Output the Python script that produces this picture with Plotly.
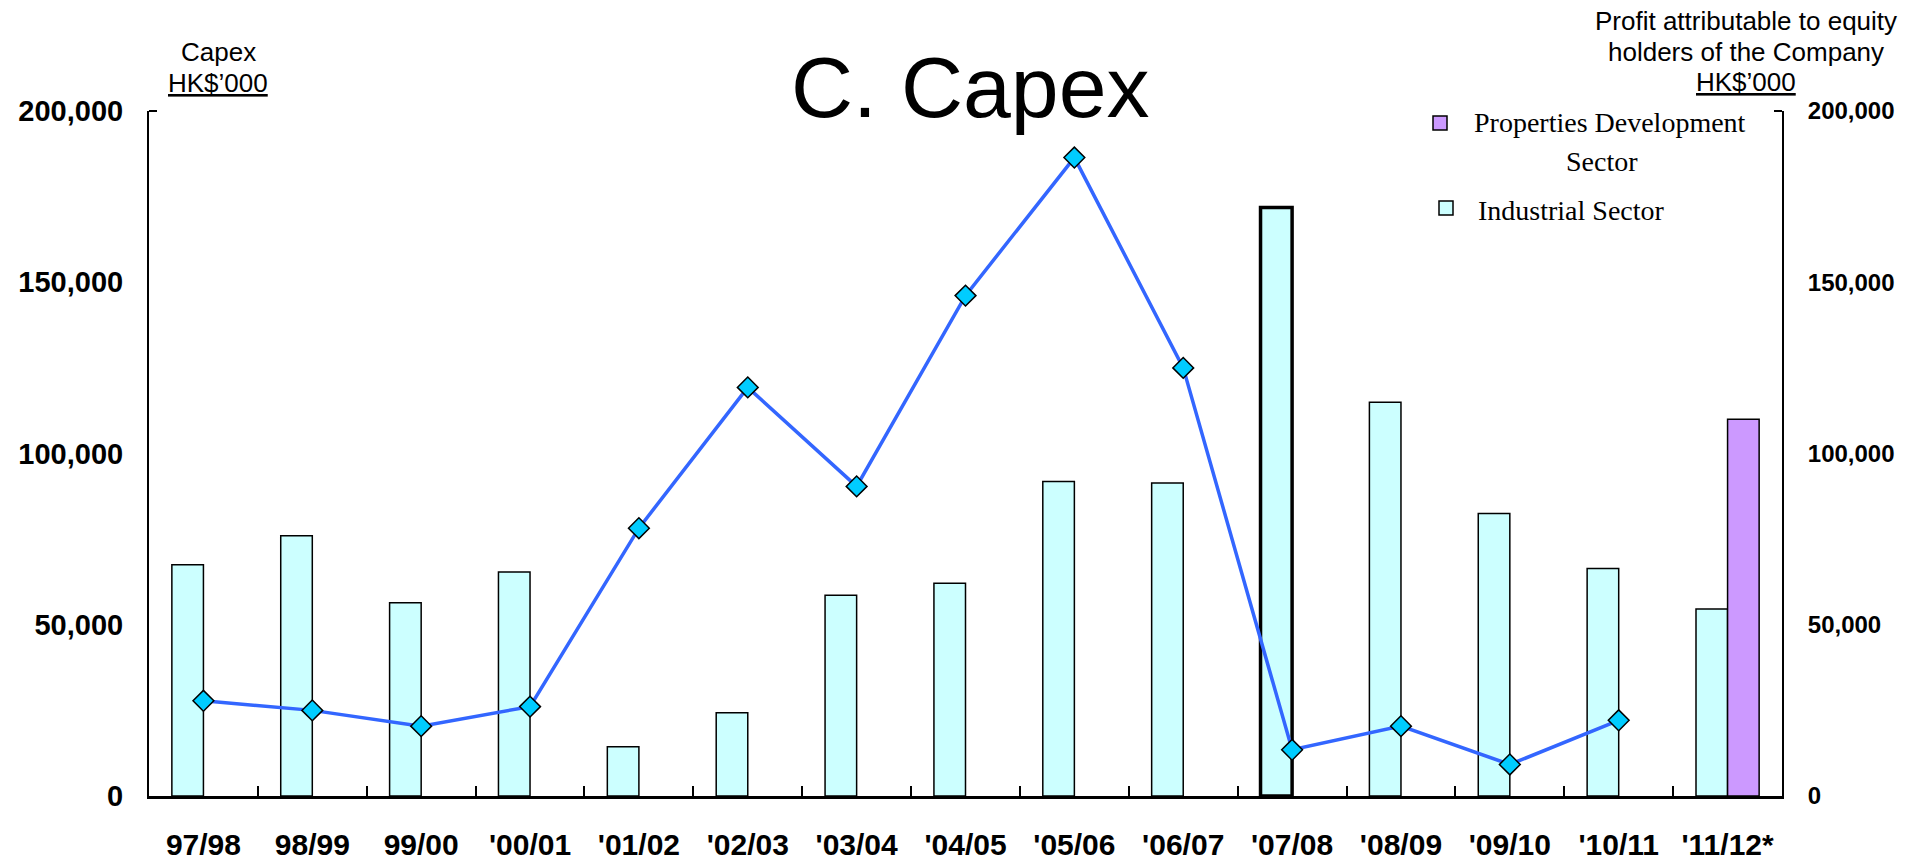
import plotly.graph_objects as go

# Financial years on the category axis
years = ["97/98", "98/99", "99/00", "'00/01", "'01/02", "'02/03", "'03/04",
         "'04/05", "'05/06", "'06/07", "'07/08", "'08/09", "'09/10",
         "'10/11", "'11/12*"]

# Capex by sector, HK$'000
industrial_capex = [67500, 76000, 56400, 65400, 14400, 24300, 58600, 62100,
                    91800, 91400, 171800, 115000, 82500, 66400, 54600]
properties_capex = [None] * 14 + [110000]

# Profit attributable to equity holders of the Company, HK$'000
profit = [27800, 25000, 20400, 26100, 78200, 119300, 90400, 146100,
          186400, 125000, 13500, 20400, 9200, 22100, None]

y_ticks = [0, 50000, 100000, 150000, 200000]

W, H = 1921, 866
L, R, T, B = 149, 139, 111, 70
PW, PH = W - L - R, H - T - B

SANS = "Liberation Sans, Arial, Helvetica, sans-serif"
SERIF = "Liberation Serif, Times New Roman, serif"


def px_x(x):
    return (x - L) / PW


def px_y(y):
    return (H - B - y) / PH


fig = go.Figure()

fig.add_trace(go.Bar(
    x=years, y=industrial_capex, name="Industrial Sector",
    marker=dict(color="#CCFFFF",
                line=dict(color="black",
                          width=[3.5 if y == "'07/08" else 1.5 for y in years])),
))
fig.add_trace(go.Bar(
    x=years, y=properties_capex, name="Properties Development Sector",
    marker=dict(color="#CC99FF", line=dict(color="black", width=1.5)),
))
fig.add_trace(go.Scatter(
    x=years, y=profit, yaxis="y2", mode="lines+markers",
    name="Profit attributable to equity holders of the Company",
    line=dict(color="#3366FF", width=3.5),
    marker=dict(symbol="diamond", size=16, color="#00CCFF",
                line=dict(color="black", width=1.5)),
    connectgaps=False,
))

fig.update_layout(
    width=W, height=H,
    margin=dict(l=L, r=R, t=T, b=B, pad=0, autoexpand=False),
    paper_bgcolor="white", plot_bgcolor="white",
    barmode="group", bargap=0.42, bargroupgap=0,
    showlegend=False,
    xaxis=dict(
        type="category", range=[-0.5, 14.5], automargin=False,
        showline=True, linecolor="black", linewidth=3,
        ticks="inside", tickson="boundaries", ticklen=10, tickwidth=1.5,
        tickcolor="black", showgrid=False, zeroline=False, tickangle=0,
        tickfont=dict(family=SANS, size=30, color="black", weight="bold"),
        ticklabelstandoff=20,
    ),
    yaxis=dict(
        range=[0, 200000], tickvals=y_ticks, tickformat=",d", automargin=False,
        showline=True, linecolor="black", linewidth=2,
        ticks="", showgrid=False, zeroline=False,
        tickfont=dict(family=SANS, size=29, color="black", weight="bold"),
        ticklabelstandoff=18,
    ),
    yaxis2=dict(
        range=[0, 200000], tickvals=y_ticks, tickformat=",d", automargin=False,
        overlaying="y", side="right",
        showline=True, linecolor="black", linewidth=2,
        ticks="", showgrid=False, zeroline=False,
        tickfont=dict(family=SANS, size=24, color="black", weight="bold"),
        ticklabelstandoff=19,
    ),
)

# Short end marks at the top of both value axes
fig.add_shape(type="line", xref="paper", yref="paper",
              x0=0, x1=px_x(L + 8), y0=1, y1=1,
              line=dict(color="black", width=2))
fig.add_shape(type="line", xref="paper", yref="paper",
              x0=1, x1=px_x(W - R - 8), y0=1, y1=1,
              line=dict(color="black", width=2))

annotations = [
    # chart title
    dict(text="C. Capex", x=px_x(970), y=px_y(87),
         font=dict(family=SANS, size=86, color="black")),
    # left axis caption
    dict(text="Capex", x=px_x(218), y=px_y(52),
         font=dict(family=SANS, size=26, color="black")),
    dict(text="<u>HK$’000</u>", x=px_x(218), y=px_y(83),
         font=dict(family=SANS, size=26, color="black")),
    # right axis caption
    dict(text="Profit attributable to equity", x=px_x(1746), y=px_y(21),
         font=dict(family=SANS, size=26, color="black")),
    dict(text="holders of the Company", x=px_x(1746), y=px_y(52),
         font=dict(family=SANS, size=26, color="black")),
    dict(text="<u>HK$’000</u>", x=px_x(1746), y=px_y(82),
         font=dict(family=SANS, size=26, color="black")),
    # legend entries
    dict(text="Properties Development", x=px_x(1472), y=px_y(123),
         xanchor="left", font=dict(family=SERIF, size=28, color="black")),
    dict(text="Sector", x=px_x(1602), y=px_y(161),
         font=dict(family=SERIF, size=28, color="black")),
    dict(text="Industrial Sector", x=px_x(1476), y=px_y(210),
         xanchor="left", font=dict(family=SERIF, size=28, color="black")),
]
for a in annotations:
    a.setdefault("xanchor", "center")
    fig.add_annotation(xref="paper", yref="paper", yanchor="middle",
                       showarrow=False, **a)

# Legend swatches
for cx, cy, col in [(1440, 123, "#CC99FF"), (1446, 208, "#CCFFFF")]:
    fig.add_shape(type="rect", xref="paper", yref="paper",
                  x0=px_x(cx - 7), x1=px_x(cx + 7),
                  y0=px_y(cy + 7), y1=px_y(cy - 7),
                  fillcolor=col, line=dict(color="black", width=1.5))

fig.write_html("out.html")
